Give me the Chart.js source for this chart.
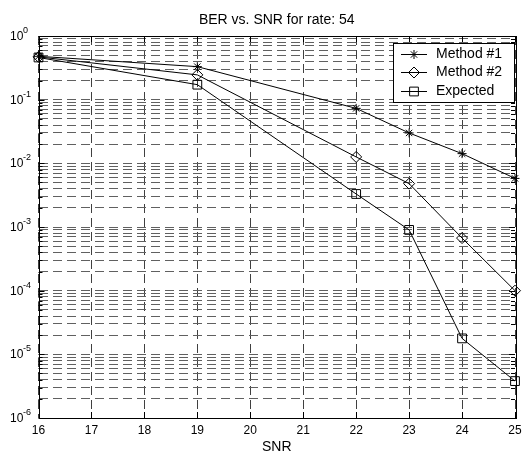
<!DOCTYPE html>
<html lang="en">
<head>
<meta charset="UTF-8"/>
<title>BER vs. SNR for rate: 54</title>
<script src="https://cdn.jsdelivr.net/npm/chart.js"></script>
<style>
  html, body { margin: 0; padding: 0; background: #fff; }
  #wrap { width: 529px; height: 456px; }
</style>
</head>
<body>
<div id="wrap"><canvas id="berChart" width="529" height="456"></canvas></div>
<script>
// values
const snr = [16, 19, 22, 23, 24, 25];
const method1 = [0.48, 0.33, 0.073, 0.030, 0.0142, 0.0058];
const method2 = [0.47, 0.245, 0.0126, 0.0048, 0.00067, 0.0001];
const expected = [0.46, 0.172, 0.0033, 0.0009, 0.0000178, 0.0000038];
const seriesNames = ['Method #1', 'Method #2', 'Expected'];
const xTicks = [16, 17, 18, 19, 20, 21, 22, 23, 24, 25];
const yExponents = [0, -1, -2, -3, -4, -5, -6];
const titleText = 'BER vs. SNR for rate: 54';
const xLabel = 'SNR';

const FONT = "'Liberation Sans', Arial, sans-serif";

// log ticks: 1..9 x 10^e for every decade, plus the top decade
const yTicks = [];
for (let e = Math.min(...yExponents); e < Math.max(...yExponents); e++) {
    for (let m = 1; m <= 9; m++) {
        yTicks.push({ value: Number((m * Math.pow(10, e)).toPrecision(3)), major: m === 1 });
    }
}
yTicks.push({ value: Math.pow(10, Math.max(...yExponents)), major: true });

function toPoints(ys) {
    return snr.map((x, i) => ({ x: x, y: ys[i] }));
}

const styles = [
    { pointStyle: 'star', radius: 4.5 },
    { pointStyle: 'rectRot', radius: 5.5 },
    { pointStyle: 'rect', radius: 6.2 }
];

const framePlugin = {
    id: 'matlabFrame',
    afterDraw(chart) {
        const ctx = chart.ctx;
        const a = chart.chartArea;
        const xs = chart.scales.x;
        const ys = chart.scales.y;
        ctx.save();

        // axes box
        ctx.strokeStyle = '#000';
        ctx.lineWidth = 1;
        ctx.setLineDash([]);
        ctx.strokeRect(Math.round(a.left) + 0.5, Math.round(a.top) + 0.5,
            Math.round(a.right - a.left), Math.round(a.bottom - a.top));

        // inward tick marks
        ctx.beginPath();
        yTicks.forEach(t => {
            const py = Math.round(ys.getPixelForValue(t.value)) + 0.5;
            const len = t.major ? 6 : 4;
            ctx.moveTo(a.left, py); ctx.lineTo(a.left + len, py);
            ctx.moveTo(a.right, py); ctx.lineTo(a.right - len, py);
        });
        xTicks.forEach(v => {
            const px = Math.round(xs.getPixelForValue(v)) + 0.5;
            ctx.moveTo(px, a.bottom); ctx.lineTo(px, a.bottom - 6);
            ctx.moveTo(px, a.top); ctx.lineTo(px, a.top + 6);
        });
        ctx.stroke();

        // y labels 10^n
        ctx.fillStyle = '#000';
        ctx.textAlign = 'left';
        ctx.textBaseline = 'alphabetic';
        yExponents.forEach(e => {
            const py = ys.getPixelForValue(Math.pow(10, e));
            ctx.font = '12px ' + FONT;
            ctx.fillText('10', 10, py + 4);
            ctx.font = '9px ' + FONT;
            ctx.fillText(String(e), 23, py - 3);
        });

        // title and x label
        ctx.font = '14px ' + FONT;
        ctx.textAlign = 'center';
        ctx.textBaseline = 'middle';
        ctx.fillText(titleText, (a.left + a.right) / 2, 20);
        ctx.fillText(xLabel, (a.left + a.right) / 2, 447);

        // legend
        const lx = 393, ly = 43, lw = 121, lh = 59;
        ctx.fillStyle = '#fff';
        ctx.fillRect(lx, ly, lw, lh);
        ctx.strokeStyle = '#000';
        ctx.strokeRect(lx + 0.5, ly + 0.5, lw, lh);
        chart.data.datasets.forEach((ds, i) => {
            const ry = Math.round(53.5 + i * 18.5) + 0.5;
            ctx.strokeStyle = '#000';
            ctx.lineWidth = 1;
            ctx.beginPath();
            ctx.moveTo(401, ry); ctx.lineTo(427, ry);
            ctx.stroke();
            ctx.fillStyle = 'rgba(0,0,0,0)';
            Chart.helpers.drawPoint(ctx, {
                pointStyle: ds.pointStyle, radius: ds.pointRadius, rotation: 0, borderWidth: 1
            }, 414, ry);
            ctx.fillStyle = '#000';
            ctx.font = '14px ' + FONT;
            ctx.textAlign = 'left';
            ctx.textBaseline = 'middle';
            ctx.fillText(ds.label, 436, ry);
        });

        ctx.restore();
    }
};

const chart = new Chart(document.getElementById('berChart').getContext('2d'), {
    type: 'line',
    data: {
        datasets: [method1, method2, expected].map((ys, i) => ({
            label: seriesNames[i],
            data: toPoints(ys),
            borderColor: '#000',
            borderWidth: 1,
            pointStyle: styles[i].pointStyle,
            pointRadius: styles[i].radius,
            pointBorderColor: '#000',
            pointBorderWidth: 1,
            pointBackgroundColor: 'rgba(0,0,0,0)',
            tension: 0,
            fill: false,
            clip: false
        }))
    },
    options: {
        responsive: false,
        animation: false,
        events: [],
        layout: { padding: { top: 36, right: 14, left: 0, bottom: 0 } },
        plugins: { legend: { display: false }, title: { display: false }, tooltip: { enabled: false } },
        scales: {
            x: {
                type: 'linear',
                min: 16,
                max: 25,
                afterBuildTicks: s => { s.ticks = xTicks.map(v => ({ value: v })); },
                afterFit: s => { s.height = 38; },
                ticks: { color: '#000', font: { family: FONT, size: 12 }, padding: 5, maxRotation: 0, autoSkip: false },
                grid: { color: '#404040', lineWidth: 1, drawTicks: false },
                border: { display: false, dash: [9, 5] }
            },
            y: {
                type: 'logarithmic',
                min: 1e-6,
                max: 1,
                afterBuildTicks: s => { s.ticks = yTicks.map(t => ({ value: t.value, major: t.major })); },
                afterFit: s => { s.width = 38.5; },
                ticks: { display: false },
                grid: { color: '#606060', lineWidth: 1, drawTicks: false },
                border: { display: false, dash: [9, 5] }
            }
        }
    },
    plugins: [framePlugin]
});
</script>
</body>
</html>
